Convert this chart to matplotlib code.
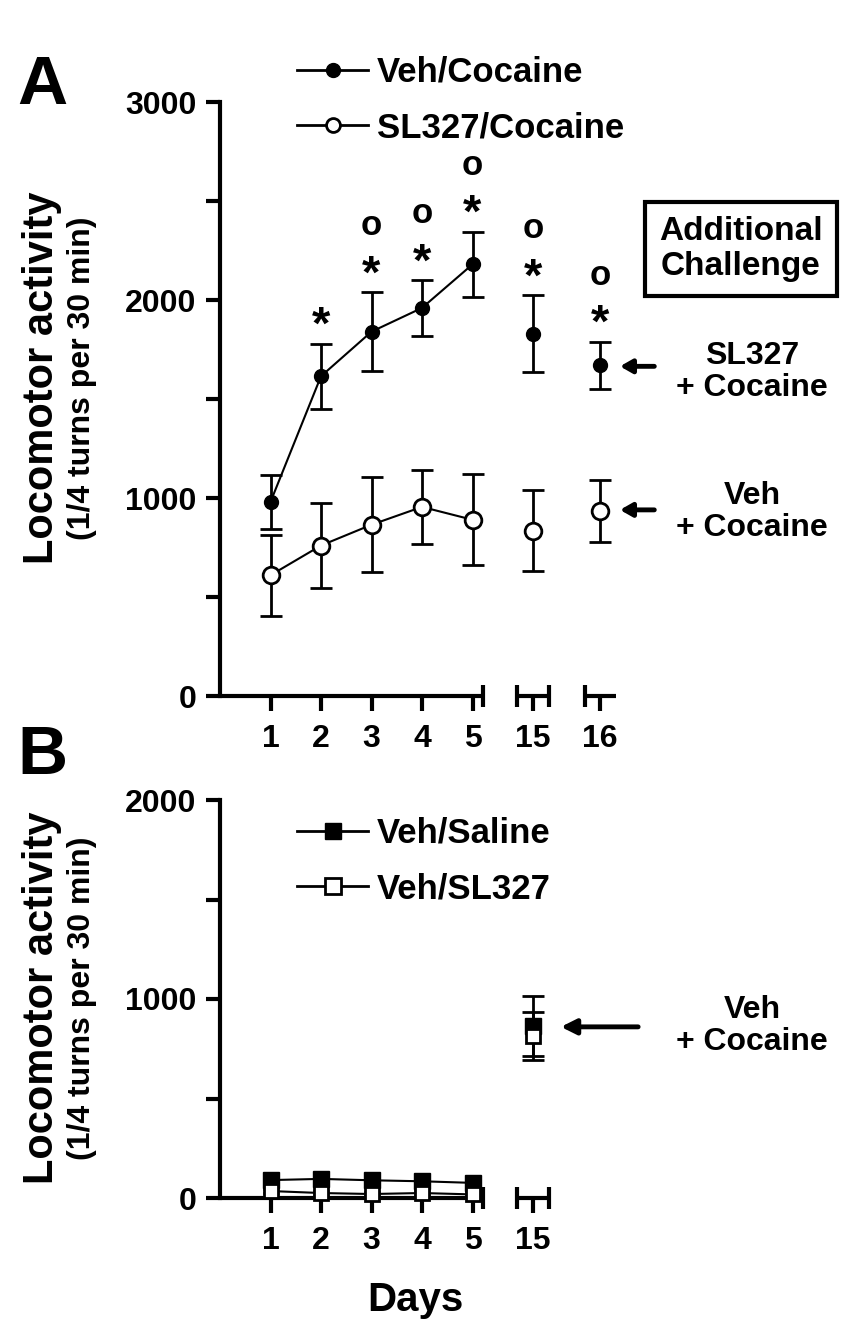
import numpy as np
import matplotlib.pyplot as plt
from matplotlib.lines import Line2D

plt.rcParams['font.family'] = ['Liberation Sans', 'DejaVu Sans']
plt.rcParams['font.weight'] = 'bold'

# Panel A data ------------------------------------------------------------
days_a = [1, 2, 3, 4, 5, 15, 16]
veh_coc = [980, 1615, 1840, 1960, 2180, 1830, 1670]
veh_coc_err = [135, 165, 200, 140, 165, 195, 120]
sl_coc = [610, 760, 865, 955, 890, 835, 935]
sl_coc_err = [205, 215, 240, 185, 230, 205, 155]
star_days = [2, 3, 4, 5, 15, 16]   # * vs day 1
circ_days = [3, 4, 5, 15, 16]      # o vs SL327/Cocaine

# Panel B data ------------------------------------------------------------
days_b = [1, 2, 3, 4, 5, 15]
veh_sal = [90, 96, 89, 84, 76, 865]
veh_sal_err = [12, 12, 12, 12, 12, 150]
veh_sl = [35, 25, 20, 25, 18, 815]
veh_sl_err = [8, 8, 8, 8, 8, 120]

# x position of each day on the broken axis
xpos = {1: 1, 2: 2, 3: 3, 4: 4, 5: 5, 15: 6.2, 16: 7.52}

W, H = 858, 1329
fig = plt.figure(figsize=(W / 100, H / 100), dpi=100)


def fx(px):
    return px / W


def fy(py):
    return 1 - py / H


def style_axis(ax, top, major, minor, days, segments, bars):
    ax.set_xlim(0, 8)
    ax.set_ylim(0, top)
    for s in ['top', 'right', 'bottom']:
        ax.spines[s].set_visible(False)
    ax.spines['left'].set_linewidth(3)
    ax.set_yticks(major)
    ax.set_yticks(minor, minor=True)
    ax.set_xticks([xpos[d] for d in days])
    ax.set_xticklabels([str(d) for d in days])
    ax.tick_params(axis='y', which='both', direction='out', length=10, width=3,
                   labelsize=23, pad=7)
    ax.tick_params(axis='x', direction='out', length=11, width=3, labelsize=23, pad=9)
    # broken x axis
    for a, b in segments:
        ax.plot([a, b], [0, 0], color='k', lw=3, clip_on=False, solid_capstyle='butt')
    for b in bars:
        ax.plot([b], [0], marker='|', ms=16, mew=3, color='k', clip_on=False)


arrow_a = dict(arrowstyle='-|>,head_length=0.7,head_width=0.4', color='k', lw=3.5,
               shrinkA=0, shrinkB=0)

# Panel A -----------------------------------------------------------------
ax1 = fig.add_axes([fx(220), 1 - 696 / H, 404 / W, 594 / H])
style_axis(ax1, 3000, [0, 1000, 2000, 3000], [500, 1500, 2500], days_a,
           [(0, 5.2), (5.88, 6.52), (7.23, 7.85)], [5.2, 5.88, 6.52, 7.23])

xa = [xpos[d] for d in days_a]
ax1.errorbar(xa[:5], sl_coc[:5], yerr=sl_coc_err[:5], fmt='-o', color='k', mfc='white',
             mec='k', ms=12, mew=2, lw=1.5, elinewidth=2, capsize=8, capthick=2, zorder=3)
ax1.errorbar(xa[5:], sl_coc[5:], yerr=sl_coc_err[5:], fmt='o', color='k', mfc='white',
             mec='k', ms=12, mew=2, elinewidth=2, capsize=8, capthick=2, zorder=3)
ax1.errorbar(xa[:5], veh_coc[:5], yerr=veh_coc_err[:5], fmt='-o', color='k', ms=10,
             lw=1.5, elinewidth=2, capsize=8, capthick=2, zorder=4)
ax1.errorbar(xa[5:], veh_coc[5:], yerr=veh_coc_err[5:], fmt='o', color='k', ms=10,
             elinewidth=2, capsize=8, capthick=2, zorder=4)

for d in star_days:
    i = days_a.index(d)
    top = veh_coc[i] + veh_coc_err[i]
    ax1.text(xpos[d], top + 85, '*', ha='center', va='center', fontsize=34)
    if d in circ_days:
        ax1.text(xpos[d], top + 335, 'o', ha='center', va='center', fontsize=25)

h1 = [Line2D([], [], color='k', lw=2, marker='o', ms=10),
      Line2D([], [], color='k', lw=2, marker='o', ms=10, mfc='white', mew=2)]
ax1.legend(h1, ['Veh/Cocaine', 'SL327/Cocaine'], loc='center left',
           bbox_to_anchor=(fx(266), fy(100)), bbox_transform=fig.transFigure,
           frameon=False, fontsize=25, handlelength=2.05, handletextpad=0.25,
           labelspacing=0.64)

fig.text(fx(741), fy(249), 'Additional\nChallenge', ha='center', va='center',
         fontsize=24, linespacing=1.2,
         bbox=dict(boxstyle='square,pad=0.42', fc='white', ec='k', lw=3))

ax1.annotate('', xy=(xpos[16] + 0.4, 1665), xytext=(xpos[16] + 1.08, 1665),
             arrowprops=arrow_a, annotation_clip=False)
ax1.annotate('', xy=(xpos[16] + 0.4, 940), xytext=(xpos[16] + 1.08, 940),
             arrowprops=arrow_a, annotation_clip=False)
fig.text(fx(752), fy(372), 'SL327\n+ Cocaine', ha='center', va='center', fontsize=23,
         linespacing=1.1)
fig.text(fx(752), fy(512), 'Veh\n+ Cocaine', ha='center', va='center', fontsize=23,
         linespacing=1.1)

# Panel B -----------------------------------------------------------------
ax2 = fig.add_axes([fx(220), 1 - 1198 / H, 404 / W, 398 / H])
style_axis(ax2, 2000, [0, 1000, 2000], [500, 1500], days_b,
           [(0, 5.2), (5.88, 6.52)], [5.2, 5.88, 6.52])

xb = [xpos[d] for d in days_b]
ax2.errorbar(xb[:5], veh_sal[:5], yerr=veh_sal_err[:5], fmt='-s', color='k', ms=11,
             lw=1.5, elinewidth=2, capsize=6, capthick=2, zorder=3, clip_on=False)
ax2.errorbar(xb[5:], veh_sal[5:], yerr=veh_sal_err[5:], fmt='s', color='k', ms=11,
             elinewidth=2, capsize=8, capthick=2, zorder=3)
ax2.errorbar(xb[:5], veh_sl[:5], yerr=veh_sl_err[:5], fmt='-s', color='k', mfc='white',
             ms=10, mew=2, lw=1.5, elinewidth=2, capsize=6, capthick=2, zorder=4,
             clip_on=False)
ax2.errorbar(xb[5:], veh_sl[5:], yerr=veh_sl_err[5:], fmt='s', color='k', mfc='white',
             ms=10, mew=2, elinewidth=2, capsize=8, capthick=2, zorder=4)

h2 = [Line2D([], [], color='k', lw=2, marker='s', ms=11),
      Line2D([], [], color='k', lw=2, marker='s', ms=11, mfc='white', mew=2)]
ax2.legend(h2, ['Veh/Saline', 'Veh/SL327'], loc='center left',
           bbox_to_anchor=(fx(266), fy(861)), bbox_transform=fig.transFigure,
           frameon=False, fontsize=25, handlelength=2.05, handletextpad=0.25,
           labelspacing=0.64)

ax2.annotate('', xy=(xpos[15] + 0.55, 860), xytext=(xpos[15] + 2.08, 860),
             arrowprops=dict(arrowstyle='-|>,head_length=0.9,head_width=0.45', color='k',
                             lw=3.5, shrinkA=0, shrinkB=0), annotation_clip=False)
fig.text(fx(752), fy(1026), 'Veh\n+ Cocaine', ha='center', va='center', fontsize=23,
         linespacing=1.1)

# Labels ------------------------------------------------------------------
fig.text(fx(42), fy(86), 'A', ha='center', va='center', fontsize=50)
fig.text(fx(42), fy(756), 'B', ha='center', va='center', fontsize=50)
for yc in [378, 998]:
    fig.text(fx(42), fy(yc), 'Locomotor activity', rotation=90, ha='center',
             va='center', fontsize=30)
    fig.text(fx(82), fy(yc), '(1/4 turns per 30 min)', rotation=90, ha='center',
             va='center', fontsize=23)
fig.text(fx(415), fy(1300), 'Days', ha='center', va='center', fontsize=29)

fig.savefig('out.png', dpi=100)
